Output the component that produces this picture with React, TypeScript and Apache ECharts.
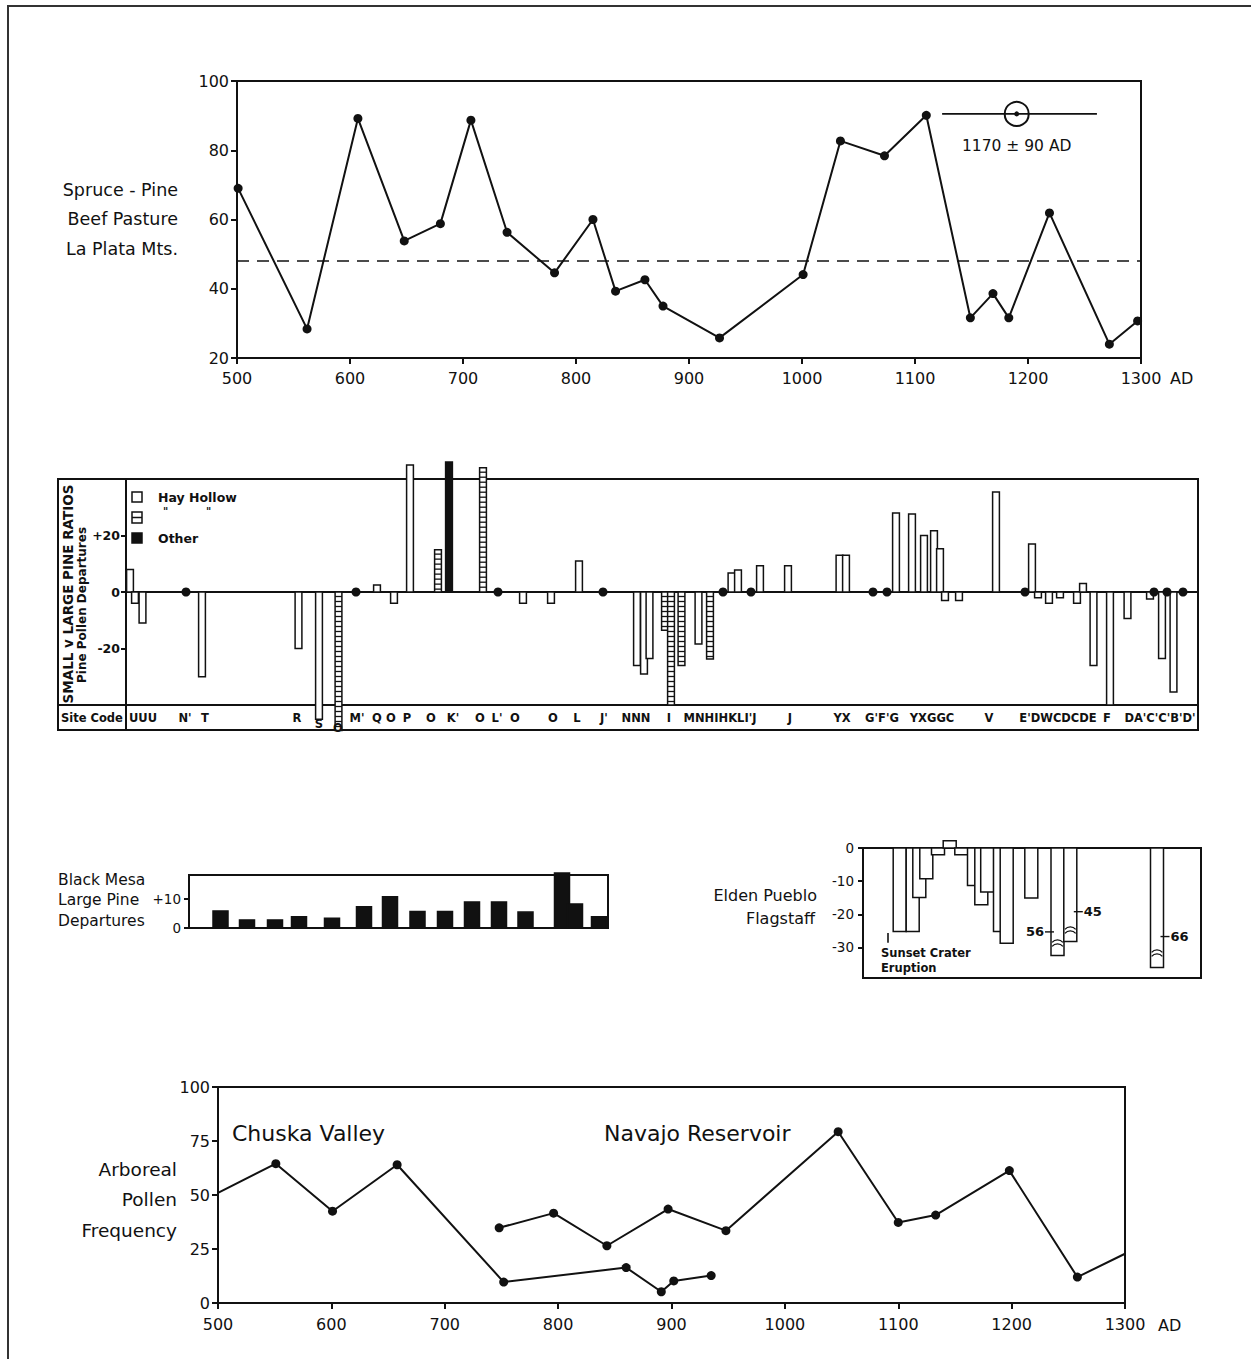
import React, { useEffect, useRef } from "react";
import * as echarts from "echarts";

const INK = "#111111";
const FONT = "DejaVu Sans";

// ---------- Panel 1: Spruce-Pine, Beef Pasture, La Plata Mts.
const spruceYears = [501, 562, 607, 648, 680, 707, 739, 781, 815, 835, 861, 877, 927, 1001, 1034, 1073, 1110, 1149, 1169, 1183, 1219, 1272, 1297];
const spruceValues = [69, 28.4, 89.2, 53.8, 58.8, 88.7, 56.3, 44.6, 60, 39.3, 42.6, 35, 25.8, 44.1, 82.7, 78.4, 90.1, 31.6, 38.6, 31.6, 61.9, 24, 30.7];
const spruceMean = 48;
const dateBarYears = [1124, 1261];
const dateCenterYear = 1190;
const dateLevel = 90.5;
const dateLabel = "1170 ± 90 AD";
const dateLabelLevel = 81.3;

// ---------- Panel 2: Small v Large pine ratios (site positions along the panel)
const siteBarPositions = [4, 9, 16.5, 76, 172.5, 193, 212.5, 251, 268, 284, 312, 323, 357, 397, 425, 453, 511, 518, 523.5, 539, 545, 555.5, 572.5, 584, 605.5, 612, 634, 662, 713.5, 720, 770, 786, 798, 808, 814, 819, 833, 870, 906, 912, 923, 934, 951, 957, 967.5, 984, 1001.5, 1024, 1036, 1047.5];
const siteBarValues = [8, -4, -11, -30, -20, -45, -49, 2.5, -4, 45, 15, 46, 44, -4, -4, 11, -26, -29, -23.5, -13.5, -40, -26, -18.4, -23.7, 6.7, 7.8, 9.3, 9.3, 13, 13, 28, 27.6, 20, 21.7, 15.3, -3, -3, 35.4, 17, -2, -4, -2, -4, 3, -26, -40, -9.4, -2.5, -23.5, -35.4];
// 0 = Hay Hollow (open), 1 = Hay Hollow ditto (ladder), 2 = Other (solid)
const siteBarKinds = [0, 0, 0, 0, 0, 0, 1, 0, 0, 0, 1, 2, 1, 0, 0, 0, 0, 0, 0, 1, 1, 1, 0, 1, 0, 0, 0, 0, 0, 0, 0, 0, 0, 0, 0, 0, 0, 0, 0, 0, 0, 0, 0, 0, 0, 0, 0, 0, 0, 0];
const siteZeroPositions = [60, 230, 372, 477, 597, 625, 747, 761, 899, 1028, 1041, 1057];
const siteCodeLabels = ["UUU", "N'", "T", "R", "S", "O", "M'", "Q", "O", "P", "O", "K'", "O", "L'", "O", "O", "L", "J'", "NNN", "I", "MNHIHKLI'J", "J", "YX", "G'F'G", "YXGGC", "V", "E'DWCDCDE", "F", "DA'C'C'B'D'"];
const siteCodePositions = [17, 59, 79, 171, 193, 212, 231, 251, 265, 281, 305, 327, 354, 371, 389, 427, 451, 478, 510, 543, 594, 664, 716, 756, 806, 863, 932, 981, 1034];
const siteCodeLevels = [-44.6, -44.6, -44.6, -44.6, -46.6, -48.2, -44.6, -44.6, -44.6, -44.6, -44.6, -44.6, -44.6, -44.6, -44.6, -44.6, -44.6, -44.6, -44.6, -44.6, -44.6, -44.6, -44.6, -44.6, -44.6, -44.6, -44.6, -44.6, -44.6];

// ---------- Panel 3: Black Mesa large pine departures
const mesaPositions = [31.5, 58, 86, 110, 143, 175, 201, 228.5, 256, 283, 310, 336.5, 373, 386, 410];
const mesaValues = [5.9, 2.8, 2.8, 3.9, 3.4, 7.3, 10.8, 5.7, 5.7, 9, 9, 5.5, 19, 8.3, 3.9];

// ---------- Panel 4: Elden Pueblo, Flagstaff
const eldenPositions = [36.7, 49.7, 56.3, 63.3, 75, 86.7, 98.3, 111, 118.3, 124.2, 137, 143.7, 168.3, 194.5, 207.3, 294];
const eldenValues = [-25.2, -25.2, -14.9, -9.3, -2, 2.2, -2, -11.3, -17.1, -13.3, -25.2, -28.7, -15.1, -32.4, -28.2, -36];
const eldenBreaks = [0, 0, 0, 0, 0, 0, 0, 0, 0, 0, 0, 0, 0, -28.3, -24.4, -31.3];
const eldenNotePositions = [194.5, 207.3, 294];
const eldenNoteLevels = [-25.3, -19.2, -26.7];
const eldenNoteSides = [-1, 1, 1];
const eldenNoteTexts = [56, 45, 66];
const eruptionPosition = 25;
const eruptionRange = [-25.6, -28.6];

// ---------- Panel 5: Arboreal pollen frequency
const chuskaYears = [500, 551, 601, 658, 752, 860, 891, 902, 935];
const chuskaValues = [51, 64.5, 42.5, 64, 9.7, 16.4, 5.2, 10.2, 12.7];
const navajoYears = [748, 796, 843, 897, 948, 1047, 1100, 1133, 1198, 1258, 1300];
const navajoValues = [34.8, 41.6, 26.5, 43.5, 33.5, 79.3, 37.3, 40.7, 61.3, 12, 22.8];

const pairs = (xs: number[], ys: number[]) => xs.map((x, i) => [x, ys[i]]);

const txt = (x: number, y: number, text: string, o: any = {}) => ({
  type: "text",
  x,
  y,
  rotation: o.rotation || 0,
  silent: true,
  style: {
    text,
    fill: INK,
    fontFamily: FONT,
    fontSize: o.size || 16,
    fontWeight: o.weight || "normal",
    align: o.align || "left",
    textAlign: o.align || "left",
    verticalAlign: "middle",
    textVerticalAlign: "middle",
  },
});

const gline = (x1: number, y1: number, x2: number, y2: number, w = 2) => ({
  type: "line",
  silent: true,
  shape: { x1, y1, x2, y2 },
  style: { stroke: INK, lineWidth: w },
});

const makeBars = (width: number) => (params: any, api: any) => {
  const x = api.value(0);
  const v = api.value(1);
  const kind = api.value(2);
  const brk = api.value(3);
  const base = api.coord([x, 0]);
  const tip = api.coord([x, v]);
  const top = Math.min(base[1], tip[1]);
  const h = Math.abs(tip[1] - base[1]);
  const left = base[0] - width / 2;
  const children: any[] = [
    {
      type: "rect",
      shape: { x: left, y: top, width, height: h },
      style: { fill: kind === 2 ? INK : "#ffffff", stroke: INK, lineWidth: 1.5 },
    },
  ];
  if (kind === 1) {
    for (let yy = top + 4.5; yy < top + h - 1.5; yy += 5) {
      children.push({ type: "line", shape: { x1: left, y1: yy, x2: left + width, y2: yy }, style: { stroke: INK, lineWidth: 1.3 } });
    }
  }
  if (brk && !isNaN(brk) && brk !== 0) {
    const yb = api.coord([x, brk])[1];
    [0, 4].forEach((off) => {
      children.push({
        type: "arc",
        shape: { cx: base[0], cy: yb + off + 5, r: 7, startAngle: Math.PI * 1.22, endAngle: Math.PI * 1.78 },
        style: { stroke: INK, fill: "none", lineWidth: 1.3 },
      });
    });
  }
  return { type: "group", children };
};

const renderNotes = (params: any, api: any) => {
  const x = api.value(0);
  const y = api.value(1);
  const side = api.value(2);
  const num = api.value(3);
  const p = api.coord([x, y]);
  const edge = p[0] + side * 6.5;
  return {
    type: "group",
    children: [
      { type: "line", shape: { x1: edge - side * 3, y1: p[1], x2: edge + side * 6, y2: p[1] }, style: { stroke: INK, lineWidth: 1.4 } },
      {
        type: "text",
        x: edge + side * 7,
        y: p[1],
        style: {
          text: String(num),
          fill: INK,
          fontFamily: FONT,
          fontSize: 13,
          fontWeight: "bold",
          align: side < 0 ? "right" : "left",
          textAlign: side < 0 ? "right" : "left",
          verticalAlign: "middle",
          textVerticalAlign: "middle",
        },
      },
    ],
  };
};

const axisLine = { show: true, onZero: false, lineStyle: { color: INK, width: 2 } };
const axisTick = (len: number) => ({ show: true, length: len, lineStyle: { color: INK, width: 2 } });
const plain = (v: number) => String(v);
const lbl = (size: number, margin: number, extra: any = {}) => ({
  color: INK,
  fontFamily: FONT,
  fontSize: size,
  margin,
  showMinLabel: true,
  showMaxLabel: true,
  formatter: plain,
  ...extra,
});

function buildOption(): any {
  const graphic: any[] = [
    // outer page frame
    { type: "line", silent: true, shape: { x1: 7, y1: 6, x2: 1251, y2: 6 }, style: { stroke: "#333", lineWidth: 2 } },
    { type: "line", silent: true, shape: { x1: 8, y1: 6, x2: 8, y2: 1359 }, style: { stroke: "#333", lineWidth: 2 } },

    // panel 1 labels
    txt(178, 190, "Spruce - Pine", { align: "right", size: 17.5 }),
    txt(178, 219, "Beef Pasture", { align: "right", size: 17.5 }),
    txt(178, 249, "La Plata Mts.", { align: "right", size: 17.5 }),
    txt(1170, 378, "AD"),

    // panel 2 frame
    { type: "rect", silent: true, shape: { x: 58, y: 479, width: 1140, height: 251 }, style: { fill: "none", stroke: INK, lineWidth: 2 } },
    gline(126, 479, 126, 730),
    gline(58, 705, 1198, 705),
    txt(61, 718, "Site Code", { size: 11.5, weight: "bold" }),
    txt(68, 594, "SMALL v LARGE PINE RATIOS", { size: 13.5, weight: "bold", align: "center", rotation: Math.PI / 2 }),
    txt(82, 605, "Pine Pollen Departures", { size: 12, weight: "bold", align: "center", rotation: Math.PI / 2 }),
    // legend
    { type: "rect", silent: true, shape: { x: 132, y: 492, width: 10, height: 10 }, style: { fill: "#fff", stroke: INK, lineWidth: 1.5 } },
    txt(158, 497, "Hay Hollow", { size: 12.5, weight: "bold" }),
    { type: "rect", silent: true, shape: { x: 132, y: 512, width: 10, height: 11 }, style: { fill: "#fff", stroke: INK, lineWidth: 1.5 } },
    gline(132, 517.5, 142, 517.5, 1.5),
    txt(163, 511, "\"", { size: 10, weight: "bold" }),
    txt(206, 511, "\"", { size: 10, weight: "bold" }),
    { type: "rect", silent: true, shape: { x: 132, y: 533, width: 10, height: 10 }, style: { fill: INK, stroke: INK, lineWidth: 1.5 } },
    txt(158, 538, "Other", { size: 12.5, weight: "bold" }),

    // panel 3 labels
    txt(58, 880, "Black Mesa", { size: 15.5 }),
    txt(58, 900, "Large Pine", { size: 15.5 }),
    txt(58, 921, "Departures", { size: 15.5 }),

    // panel 4 labels
    txt(817, 895, "Elden Pueblo", { size: 16, align: "right" }),
    txt(815, 918, "Flagstaff", { size: 16, align: "right" }),
    txt(881, 953, "Sunset Crater", { size: 11.5, weight: "bold" }),
    txt(881, 968, "Eruption", { size: 11.5, weight: "bold" }),

    // panel 5 labels
    txt(177, 1169, "Arboreal", { size: 18.5, align: "right" }),
    txt(177, 1199, "Pollen", { size: 18.5, align: "right" }),
    txt(177, 1230, "Frequency", { size: 18.5, align: "right" }),
    txt(232, 1133, "Chuska Valley", { size: 22 }),
    txt(604, 1133, "Navajo Reservoir", { size: 22 }),
    txt(1158, 1325, "AD"),
  ];

  const hiddenX = (gridIndex: number, max: number, showLine = false) => ({
    gridIndex,
    type: "value",
    min: 0,
    max,
    axisLine: { show: showLine, onZero: true, lineStyle: { color: INK, width: 2 } },
    axisTick: { show: false },
    axisLabel: { show: false },
    splitLine: { show: false },
  });

  return {
    animation: false,
    backgroundColor: "#ffffff",
    textStyle: { fontFamily: FONT },
    grid: [
      { left: 237, top: 81, width: 904, height: 277, show: true, borderColor: INK, borderWidth: 2 },
      { left: 126, top: 479, width: 1072, height: 226 },
      { left: 189, top: 875, width: 419, height: 53, show: true, borderColor: INK, borderWidth: 2 },
      { left: 863, top: 848, width: 338, height: 130, show: true, borderColor: INK, borderWidth: 2 },
      { left: 218, top: 1087, width: 907, height: 216, show: true, borderColor: INK, borderWidth: 2 },
    ],
    xAxis: [
      { gridIndex: 0, type: "value", min: 500, max: 1300, interval: 100, axisLine, axisTick: axisTick(6), axisLabel: lbl(16, 12), splitLine: { show: false } },
      hiddenX(1, 1072, true),
      hiddenX(2, 419),
      hiddenX(3, 338),
      { gridIndex: 4, type: "value", min: 500, max: 1300, interval: 100, axisLine, axisTick: axisTick(6), axisLabel: lbl(16, 13), splitLine: { show: false } },
    ],
    yAxis: [
      { gridIndex: 0, type: "value", min: 20, max: 100, interval: 20, axisLine, axisTick: axisTick(6), axisLabel: lbl(16, 8), splitLine: { show: false } },
      {
        gridIndex: 1, type: "value", min: -40, max: 40, interval: 20,
        axisLine: { show: true, lineStyle: { color: INK, width: 2 } },
        axisTick: { show: true, length: 5, lineStyle: { color: INK, width: 2 }, customValues: [-20, 0, 20] },
        axisLabel: lbl(12.5, 6, { fontWeight: "bold", customValues: [-20, 0, 20], formatter: (v: number) => (v > 0 ? "+" + v : String(v)) }),
        splitLine: { show: false },
      },
      {
        gridIndex: 2, type: "value", min: 0, max: 18.3,
        axisLine, axisTick: { show: true, length: 5, lineStyle: { color: INK, width: 2 }, customValues: [0, 10] },
        axisLabel: lbl(13.5, 8, { customValues: [0, 10], formatter: (v: number) => (v > 0 ? "+" + v : String(v)) }),
        splitLine: { show: false },
      },
      {
        gridIndex: 3, type: "value", min: -39.2, max: 0,
        axisLine, axisTick: { show: true, length: 5, lineStyle: { color: INK, width: 2 }, customValues: [0, -10, -20, -30] },
        axisLabel: lbl(13.5, 9, { customValues: [0, -10, -20, -30] }),
        splitLine: { show: false },
      },
      { gridIndex: 4, type: "value", min: 0, max: 100, interval: 25, axisLine, axisTick: axisTick(6), axisLabel: lbl(16, 8), splitLine: { show: false } },
    ],
    graphic,
    series: [
      // ---- panel 1
      {
        type: "line", xAxisIndex: 0, yAxisIndex: 0,
        data: pairs(spruceYears, spruceValues),
        symbol: "circle", symbolSize: 9,
        itemStyle: { color: INK },
        lineStyle: { color: INK, width: 2 },
        markLine: {
          silent: true, symbol: ["none", "none"], label: { show: false },
          lineStyle: { color: INK, width: 1.6, type: [12, 8] },
          data: [{ yAxis: spruceMean }],
        },
      },
      {
        type: "line", xAxisIndex: 0, yAxisIndex: 0,
        data: dateBarYears.map((y) => [y, dateLevel]),
        symbol: "none", lineStyle: { color: INK, width: 1.6 },
      },
      {
        type: "scatter", xAxisIndex: 0, yAxisIndex: 0,
        data: [[dateCenterYear, dateLevel]],
        symbol: "circle", symbolSize: 24,
        itemStyle: { color: "#ffffff", borderColor: INK, borderWidth: 2, opacity: 1 },
      },
      {
        type: "scatter", xAxisIndex: 0, yAxisIndex: 0, z: 4,
        data: [[dateCenterYear, dateLevel]],
        symbol: "circle", symbolSize: 5, itemStyle: { color: INK, opacity: 1 },
      },
      {
        type: "scatter", xAxisIndex: 0, yAxisIndex: 0,
        data: [[dateCenterYear, dateLabelLevel]],
        symbolSize: 0, itemStyle: { opacity: 1 },
        label: { show: true, position: "inside", formatter: dateLabel, color: INK, fontFamily: FONT, fontSize: 15.5 },
      },

      // ---- panel 2
      {
        type: "custom", xAxisIndex: 1, yAxisIndex: 1, clip: false,
        data: siteBarPositions.map((p, i) => [p, siteBarValues[i], siteBarKinds[i], 0]),
        renderItem: makeBars(6.8),
      },
      {
        type: "scatter", xAxisIndex: 1, yAxisIndex: 1, z: 5,
        data: siteZeroPositions.map((p) => [p, 0]),
        symbol: "circle", symbolSize: 9, itemStyle: { color: INK, opacity: 1 },
      },
      {
        type: "scatter", xAxisIndex: 1, yAxisIndex: 1, clip: false,
        data: siteCodeLabels.map((s, i) => ({ name: s, value: [siteCodePositions[i], siteCodeLevels[i]] })),
        symbolSize: 0, itemStyle: { opacity: 1 },
        label: { show: true, position: "inside", formatter: "{b}", color: INK, fontFamily: FONT, fontSize: 11.5, fontWeight: "bold" },
      },

      // ---- panel 3
      {
        type: "custom", xAxisIndex: 2, yAxisIndex: 2, clip: false,
        data: mesaPositions.map((p, i) => [p, mesaValues[i], 2, 0]),
        renderItem: makeBars(15),
      },

      // ---- panel 4
      {
        type: "custom", xAxisIndex: 3, yAxisIndex: 3, clip: false,
        data: eldenPositions.map((p, i) => [p, eldenValues[i], 0, eldenBreaks[i]]),
        renderItem: makeBars(13),
      },
      {
        type: "custom", xAxisIndex: 3, yAxisIndex: 3, clip: false, z: 5,
        data: eldenNotePositions.map((p, i) => [p, eldenNoteLevels[i], eldenNoteSides[i], eldenNoteTexts[i]]),
        renderItem: renderNotes,
      },
      {
        type: "line", xAxisIndex: 3, yAxisIndex: 3,
        data: eruptionRange.map((v) => [eruptionPosition, v]),
        symbol: "none", lineStyle: { color: INK, width: 1.6 },
      },

      // ---- panel 5
      {
        type: "line", xAxisIndex: 4, yAxisIndex: 4,
        data: chuskaYears.map((y, i) => ({ value: [y, chuskaValues[i]], symbol: i === 0 ? "none" : "circle" })),
        symbolSize: 9, itemStyle: { color: INK }, lineStyle: { color: INK, width: 2 },
      },
      {
        type: "line", xAxisIndex: 4, yAxisIndex: 4,
        data: navajoYears.map((y, i) => ({ value: [y, navajoValues[i]], symbol: i === navajoYears.length - 1 ? "none" : "circle" })),
        symbolSize: 9, itemStyle: { color: INK }, lineStyle: { color: INK, width: 2 },
      },
    ],
  };
}

export default function App() {
  const ref = useRef<HTMLDivElement>(null);
  useEffect(() => {
    if (!ref.current) return;
    const chart = echarts.init(ref.current, undefined, { renderer: "svg" });
    chart.setOption(buildOption());
    return () => chart.dispose();
  }, []);
  return <div ref={ref} style={{ position: "absolute", left: 0, top: 0, width: 1251, height: 1359, background: "#fff" }} />;
}
